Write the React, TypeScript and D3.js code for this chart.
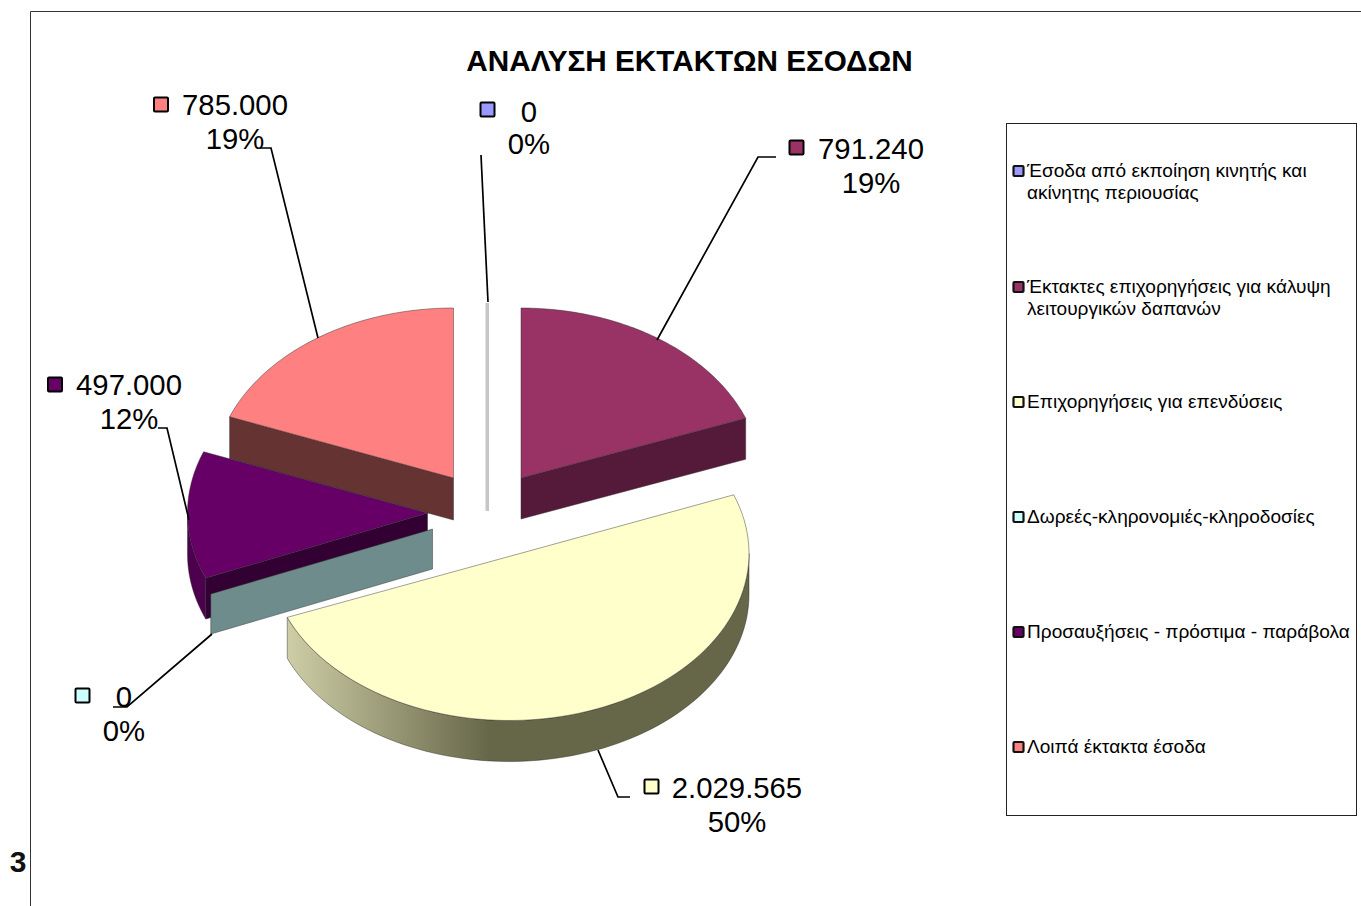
import React from "react";
import * as d3 from "d3";

const title = "ΑΝΑΛΥΣΗ ΕΚΤΑΚΤΩΝ ΕΣΟΔΩΝ";
const categories = [
  ["Έσοδα από εκποίηση κινητής και", "ακίνητης περιουσίας"],
  ["Έκτακτες επιχορηγήσεις για κάλυψη", "λειτουργικών δαπανών"],
  ["Επιχορηγήσεις για επενδύσεις"],
  ["Δωρεές-κληρονομιές-κληροδοσίες"],
  ["Προσαυξήσεις - πρόστιμα - παράβολα"],
  ["Λοιπά έκτακτα έσοδα"],
];
const values = [0, 791240, 2029565, 0, 497000, 785000];
const percentLabels = ["0%", "19%", "50%", "0%", "12%", "19%"];
const topColors = ["#9999FF", "#993366", "#FFFFCC", "#CCFFFF", "#660066", "#FF8080"];
const cutColors = ["#c6c6c6", "#551A3A", "#666649", "#6F8C8C", "#330033", "#663333"];

// layout (not data)
const FONT = "'Liberation Sans', Arial, sans-serif";
const RX = 240;
const radiiY = [170, 170, 167, 170, 170, 170];
const DEPTH = 41;
const centers: [number, number][] = [[487, 470], [521, 478], [509, 553.5], [432.5, 529], [427.5, 513], [453.5, 478]];
const labelPos: [number, number][] = [[529, 122], [871, 159], [737, 798], [124, 707], [129, 395], [235, 115]];
const labelGap = [32, 34, 34, 34, 34, 34];
const keyPos: [number, number][] = [[487.5, 109.5], [796.5, 147.5], [651.5, 786.5], [82.5, 695.5], [55, 384.5], [161, 104.5]];
const leaders: [number, number][][] = [
  [[481, 155], [488, 302]],
  [[776, 157], [758, 157], [657, 340]],
  [[630, 797], [618, 797], [598, 750]],
  [[113, 707], [127, 707], [212, 634]],
  [[158, 428], [167, 428], [189, 520]],
  [[260, 148], [271, 148], [318, 338]],
];
const legendY = [171, 287, 402, 517, 632, 747];

const fmt = d3.formatLocale({ decimal: ",", thousands: ".", grouping: [3], currency: ["", "€"] }).format(",d");

const x = d3.scaleLinear().domain([-1, 1]).range([-RX, RX]);
const pt = (i: number, a: number): [number, number] => [
  centers[i][0] + x(Math.sin(a)),
  centers[i][1] - radiiY[i] * Math.cos(a),
];
const line = d3.line<[number, number]>();

function rim(i: number, a0: number, a1: number) {
  const n = 80;
  return d3.range(n + 1).map((k) => pt(i, a0 + ((a1 - a0) * k) / n));
}
function sector(i: number, a0: number, a1: number, withApex = true) {
  const arc = rim(i, a0, a1);
  return line(withApex ? [centers[i], ...arc] : arc)! + "Z";
}
function wall(i: number, a0: number, a1: number) {
  const arc = rim(i, a0, a1);
  const low = arc.map(([px, py]) => [px, py + DEPTH] as [number, number]).reverse();
  return line([...arc, ...low])! + "Z";
}
function cut(i: number, a: number, depth = DEPTH) {
  const c = centers[i];
  const p = pt(i, a);
  return line([c, p, [p[0], p[1] + depth], [c[0], c[1] + depth]])! + "Z";
}

const arcs = d3.pie<number>().sort(null)(values);
const A0 = arcs.map((d) => d.startAngle);
const A1 = arcs.map((d) => d.endAngle);
const EDGE = { stroke: "#2a2a2a", strokeWidth: 0.6, strokeOpacity: 0.75 };

export default function App() {
  return (
    <svg
      width={1361}
      height={906}
      style={{ position: "absolute", left: 0, top: 0, background: "#fff" }}
      fontFamily={FONT}
    >
      <defs>
        <linearGradient id="yellowWall" gradientUnits="userSpaceOnUse" x1={288} x2={490} y1={0} y2={0}>
          <stop offset="0" stopColor="#CDCDA6" />
          <stop offset="1" stopColor="#666649" />
        </linearGradient>
      </defs>

      <path d="M30.5 906V11.5H1361" fill="none" stroke="#333" strokeWidth={1} />
      <text x={18} y={872} fontSize={30} fontWeight="bold" textAnchor="middle" fill="#111">3</text>
      <text x={689.5} y={71} fontSize={29.7} fontWeight="bold" textAnchor="middle" fill="#000">{title}</text>

      {/* pink */}
      <path d={cut(5, A0[5], 42)} fill={cutColors[5]} {...EDGE} />
      <path d={sector(5, A0[5], A1[5])} fill={topColors[5]} {...EDGE} />

      {/* zero slice at the top */}
      <rect x={centers[0][0] - 1.5} y={pt(0, 0)[1] + 3} width={3.5} height={radiiY[0] + DEPTH - 3} fill={cutColors[0]} />

      {/* burgundy */}
      <path d={cut(1, A1[1])} fill={cutColors[1]} {...EDGE} />
      <path d={sector(1, A0[1], A1[1])} fill={topColors[1]} {...EDGE} />

      {/* purple */}
      <path d={wall(4, A0[4], (3 * Math.PI) / 2)} fill="#4D004D" {...EDGE} />
      <path d={cut(4, A0[4])} fill={cutColors[4]} {...EDGE} />
      <path d={sector(4, A0[4], A1[4])} fill={topColors[4]} {...EDGE} />

      {/* zero slice facing the viewer */}
      <path d={cut(3, A0[3], 40)} fill={cutColors[3]} {...EDGE} />

      {/* yellow */}
      <path d={wall(2, Math.PI / 2, A1[2])} fill="url(#yellowWall)" {...EDGE} />
      <path d={sector(2, A0[2], A1[2], false)} fill={topColors[2]} {...EDGE} />

      {/* leaders */}
      {leaders.map((l, i) => (
        <path key={i} d={line(l)!} fill="none" stroke="#000" strokeWidth={1.7} />
      ))}

      {/* data labels */}
      {values.map((v, i) => (
        <g key={i}>
          <rect x={keyPos[i][0] - 7} y={keyPos[i][1] - 7} width={14} height={14} rx={1} fill={topColors[i]} stroke="#000" strokeWidth={2} />
          <text x={labelPos[i][0]} y={labelPos[i][1]} fontSize={29.3} textAnchor="middle" fill="#000">{fmt(v)}</text>
          <text x={labelPos[i][0]} y={labelPos[i][1] + labelGap[i]} fontSize={29.3} textAnchor="middle" fill="#000">{percentLabels[i]}</text>
        </g>
      ))}

      {/* legend */}
      <rect x={1006.5} y={123.5} width={350} height={692} fill="#fff" stroke="#222" strokeWidth={1} />
      {categories.map((lines, i) => (
        <g key={i}>
          <rect x={1013.5} y={legendY[i] - 5} width={10} height={10} rx={1} fill={topColors[i]} stroke="#111" strokeWidth={2.2} />
          {lines.map((t, j) => (
            <text key={j} x={1027} y={legendY[i] + 6 + j * 22} fontSize={19.08} fill="#000">{t}</text>
          ))}
        </g>
      ))}
    </svg>
  );
}
